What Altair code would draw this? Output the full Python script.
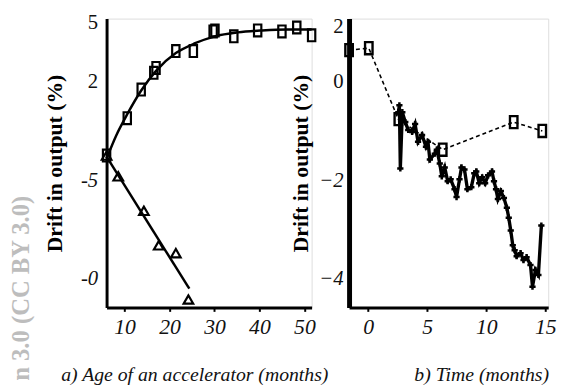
import altair as alt
import pandas as pd

# ---------- panel a) : drift vs age of accelerator ----------
a_sq_x = [6.0, 10.6, 13.7, 16.5, 17.0, 21.4, 25.3, 29.7, 30.1, 34.3, 39.6, 45.0, 48.3, 51.6]
a_sq_y = [-1.75, 0.15, 1.6, 2.45, 2.7, 3.55, 3.55, 4.55, 4.6, 4.3, 4.6, 4.55, 4.75, 4.35]
a_sqfit_x = [6.0, 8.2, 10.6, 13.7, 17.0, 21.4, 25.7, 30.1, 35.2, 40.6, 46.1, 51.6]
a_sqfit_y = [-1.9, -0.7, 0.35, 1.55, 2.55, 3.45, 3.95, 4.3, 4.5, 4.6, 4.65, 4.65]
a_tri_x = [6.0, 8.6, 14.3, 17.6, 21.4, 24.2]
a_tri_y = [-1.75, -2.8, -4.55, -6.3, -6.7, -9.05]
a_trifit_x = [6.0, 24.4]
a_trifit_y = [-1.8, -8.5]
a_xticks = [10, 20, 30, 40, 50]
a_yticks = [5, 2, -3, -8]

# ---------- panel b) : drift vs time ----------
b_sq_x = [-1.62, 0.05, 2.55, 6.31, 12.32, 14.74]
b_sq_y = [0.64, 0.68, -0.76, -1.38, -0.82, -1.00]
b_x = [2.55, 2.64, 2.72, 2.89, 3.14, 3.39, 3.72, 3.97, 4.22, 4.56, 4.89, 5.06, 5.22,
       5.64, 5.81, 6.06, 6.23, 6.48, 6.73, 6.98, 7.31, 7.48, 7.73, 7.90, 8.15, 8.40,
       8.73, 8.98, 9.15, 9.40, 9.65, 9.90, 10.15, 10.48, 10.65, 10.82, 10.98, 11.23,
       11.49, 11.74, 11.90, 12.07, 12.24, 12.40, 12.57, 12.90, 13.15, 13.41, 13.74,
       13.91, 14.16, 14.41, 14.66]
b_y = [-0.62, -0.48, -1.76, -0.62, -0.82, -0.98, -1.02, -0.86, -1.22, -1.08, -1.32,
       -1.22, -1.58, -1.46, -1.38, -1.66, -1.92, -1.74, -2.02, -1.98, -2.18, -2.34,
       -1.98, -1.74, -1.78, -2.18, -2.14, -1.86, -1.82, -2.06, -1.94, -2.06, -1.90,
       -1.82, -2.02, -2.18, -2.38, -2.22, -2.36, -2.56, -2.76, -3.02, -3.32, -3.42,
       -3.54, -3.48, -3.62, -3.56, -3.72, -4.16, -3.82, -3.92, -2.92]
b_xticks = [0, 5, 10, 15]
b_yticks = [1.12, 0, -2, -4]

SERIF = "Liberation Serif"
INK = "#111111"
RECT = "M-0.62,-1L0.62,-1L0.62,1L-0.62,1Z"

italic_neg = {"condition": {"test": "datum.value < 0", "value": "italic"}, "value": "normal"}


def x_enc(domain, ticks, title, title_x):
    return alt.X("x:Q", scale=alt.Scale(domain=domain, nice=False, zero=False),
                 axis=alt.Axis(values=ticks, title=title, grid=False,
                               domainColor="black", domainWidth=3,
                               tickColor="black", tickSize=4, tickWidth=2,
                               labelFont=SERIF, labelFontStyle="italic", labelFontSize=22,
                               labelColor=INK, labelPadding=5, labelOverlap=False,
                               titleFont=SERIF, titleFontStyle="italic",
                               titleFontWeight="normal", titleFontSize=20,
                               titleColor=INK, titlePadding=28, titleX=title_x))


def y_enc(domain, ticks, expr, dwidth, lpad, tpad):
    return alt.Y("y:Q", scale=alt.Scale(domain=domain, nice=False, zero=False),
                 axis=alt.Axis(values=ticks, labelExpr=expr, title="Drift in output (%)",
                               grid=False, domainColor="black", domainWidth=dwidth,
                               tickSize=0, labelFont=SERIF, labelFontSize=21,
                               labelFontStyle=italic_neg, labelColor=INK,
                               labelPadding=lpad, labelOverlap=False,
                               titleFont=SERIF, titleFontWeight="bold", titleFontSize=22,
                               titleColor="black", titlePadding=tpad))


# panel a
ax = x_enc([6.0, 51.6], a_xticks, "a) Age of an accelerator (months)", 89)
ay = y_enc([-9.45, 5.2], a_yticks,
           "datum.value == -3 ? '-5' : (datum.value == -8 ? '-0' : datum.label)", 3, 9, 14)

a_sq = pd.DataFrame({"x": a_sq_x, "y": a_sq_y})
a_sqfit = pd.DataFrame({"x": a_sqfit_x, "y": a_sqfit_y})
a_tri = pd.DataFrame({"x": a_tri_x, "y": a_tri_y})
a_trifit = pd.DataFrame({"x": a_trifit_x, "y": a_trifit_y})

panel_a = alt.layer(
    alt.Chart(a_sqfit).mark_line(color="black", strokeWidth=2.5, interpolate="monotone").encode(x=ax, y=ay),
    alt.Chart(a_trifit).mark_line(color="black", strokeWidth=2.5).encode(x=ax, y=ay),
    alt.Chart(a_sq).mark_point(shape=RECT, size=144, filled=False, color="black",
                               strokeWidth=2.2, opacity=1).encode(x=ax, y=ay),
    alt.Chart(a_tri).mark_point(shape="triangle-up", size=95, filled=False, color="black",
                                strokeWidth=2.2, opacity=1).encode(x=ax, y=ay),
).properties(width=208, height=293)

# panel b
bx = x_enc([-1.62, 15.24], b_xticks, "b) Time (months)", 134)
by = y_enc([-4.58, 1.28], b_yticks, "datum.value > 1 ? '2' : datum.label", 5, 6, 7)

b_sq = pd.DataFrame({"x": b_sq_x, "y": b_sq_y})
b_line = pd.DataFrame({"x": b_x, "y": b_y, "i": list(range(len(b_x)))})

panel_b = alt.layer(
    alt.Chart(b_sq).mark_line(color="black", strokeWidth=1.6, strokeDash=[4, 3]).encode(x=bx, y=by),
    alt.Chart(b_line).mark_line(color="black", strokeWidth=3.4).encode(x=bx, y=by, order="i:Q"),
    alt.Chart(b_line).mark_point(shape="cross", size=40, filled=True, color="black",
                                 opacity=1).encode(x=bx, y=by),
    alt.Chart(b_sq).mark_point(shape=RECT, size=150, filled=False, color="black",
                               strokeWidth=2.4, opacity=1).encode(x=bx, y=by),
).properties(width=202, height=293)

chart = alt.hconcat(panel_a, panel_b, spacing=38, bounds="flush").properties(
    title=alt.TitleParams("n 3.0 (CC BY 3.0)", orient="left", anchor="start", frame="bounds",
                          font=SERIF, fontWeight="bold", fontSize=25, color="#bdbdbd",
                          offset=10, dx=4),
    padding={"left": 1, "top": 0, "right": 5, "bottom": 0},
).configure_view(stroke=None).configure(background="white")

chart.save("out.html", embed_options={"renderer": "svg", "actions": False})
